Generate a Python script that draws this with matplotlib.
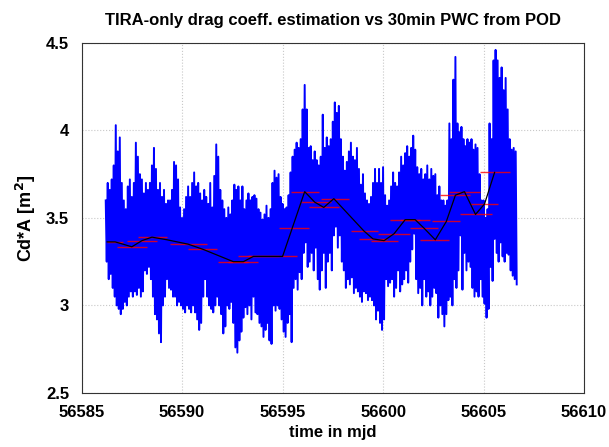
import numpy as np
import matplotlib
matplotlib.use('Agg')
import matplotlib.pyplot as plt

plt.rcParams['font.family'] = ['Liberation Sans', 'DejaVu Sans']
plt.rcParams['font.weight'] = 'bold'

# 30min PWC from POD (one high/low pair per 0.1 day)
t_start = 56586.2
t_step = 0.05
cd_pod = [
    3.60, 3.25, 3.70, 3.15, 3.66, 3.18, 3.72, 3.10, 3.80, 3.05, 4.03, 3.00, 3.88, 2.98, 3.96, 2.95,
    3.70, 2.98, 3.60, 3.02, 3.55, 3.00, 3.68, 3.05, 3.72, 3.08, 3.62, 3.05, 3.70, 3.08, 3.93, 3.06, 3.85, 3.10, 3.75, 3.05,
    3.72, 3.08, 3.64, 3.20, 3.70, 3.18, 3.66, 3.22, 3.70, 3.15, 3.80, 3.05, 3.90, 2.95, 3.78, 2.92, 3.66, 2.84, 3.70, 2.79,
    3.62, 3.00, 3.66, 3.05, 3.58, 3.15, 3.60, 3.10, 3.60, 3.09, 3.66, 3.05, 3.82, 3.05, 3.80, 3.00, 3.72, 3.02, 3.56, 3.00,
    3.50, 2.98, 3.55, 2.96, 3.62, 3.00, 3.68, 2.98, 3.62, 2.96, 3.70, 3.00, 3.76, 2.96, 3.68, 2.92, 3.70, 2.86, 3.64, 2.90,
    3.60, 3.05, 3.66, 3.15, 3.62, 3.05, 3.58, 3.00, 3.70, 2.98, 3.56, 2.96, 3.74, 3.00, 3.92, 3.05, 3.85, 3.00, 3.66, 2.95,
    3.60, 2.84, 3.55, 2.88, 3.50, 3.00, 3.56, 2.98, 3.52, 3.02, 3.60, 2.90, 3.69, 2.76, 3.66, 2.73, 3.68, 2.80, 3.60, 2.85,
    3.68, 2.93, 3.55, 2.99, 3.60, 2.95, 3.64, 3.00, 3.60, 2.92, 3.62, 3.05, 3.63, 2.96, 3.61, 2.95, 3.55, 2.90, 3.53, 2.88,
    3.49, 2.82, 3.52, 2.86, 3.57, 2.90, 3.50, 2.80, 3.55, 2.78, 3.70, 3.00, 3.77, 2.97, 3.73, 3.00, 3.75, 2.98, 3.62, 2.92,
    3.58, 2.85, 3.55, 2.82, 3.56, 2.90, 3.63, 2.95, 3.76, 2.79, 3.85, 3.10, 3.89, 3.15, 3.93, 3.09, 3.90, 3.19, 3.95, 3.15,
    4.12, 3.30, 4.26, 3.36, 4.12, 3.22, 3.90, 3.25, 3.91, 3.30, 3.83, 3.20, 3.88, 3.33, 3.83, 3.15, 3.80, 3.09, 3.85, 3.20,
    4.09, 3.30, 3.90, 3.10, 3.96, 3.25, 3.91, 3.30, 3.95, 3.20, 4.05, 3.40, 4.16, 3.45, 4.10, 3.33, 4.14, 3.40, 3.95, 3.25,
    3.85, 3.20, 3.77, 3.10, 3.82, 3.15, 3.88, 3.12, 3.93, 3.16, 3.85, 3.07, 3.83, 3.10, 3.90, 3.08, 3.78, 3.05, 3.69, 3.02,
    3.75, 3.08, 3.64, 3.07, 3.60, 3.03, 3.58, 3.05, 3.62, 3.03, 3.70, 3.00, 3.78, 2.92, 3.70, 2.97, 3.78, 2.90, 3.70, 2.86,
    3.79, 2.92, 3.63, 3.15, 3.57, 3.11, 3.60, 3.13, 3.68, 3.15, 3.76, 3.05, 3.70, 3.10, 3.68, 3.20, 3.76, 3.08, 3.85, 3.12,
    3.80, 3.15, 3.87, 3.20, 3.91, 3.13, 3.85, 3.25, 3.90, 3.32, 3.97, 3.41, 3.89, 3.15, 3.79, 3.07, 3.75, 3.10, 3.78, 3.00,
    3.72, 3.15, 3.75, 3.05, 3.80, 3.08, 3.72, 3.00, 3.78, 3.05, 3.74, 3.10, 3.75, 3.07, 3.63, 2.93, 3.68, 3.00, 3.60, 2.95,
    3.60, 2.88, 3.57, 2.95, 3.60, 3.03, 4.04, 3.05, 3.95, 3.00, 4.29, 3.15, 4.42, 3.10, 4.04, 3.20, 3.99, 3.40, 4.02, 3.09,
    3.95, 3.30, 3.91, 3.20, 3.95, 3.25, 3.93, 3.22, 3.95, 3.10, 3.89, 3.05, 3.92, 3.08, 3.90, 3.05, 3.75, 3.15, 3.60, 3.05,
    3.60, 3.01, 3.50, 2.93, 3.55, 2.98, 4.04, 3.22, 3.95, 3.14, 4.40, 3.38, 4.46, 3.30, 4.40, 3.25, 4.30, 3.36, 4.36, 3.28,
    4.23, 3.25, 4.30, 3.30, 4.12, 3.29, 3.95, 3.20, 3.89, 3.17, 3.90, 3.15, 3.88, 3.12,
]

# TIRA-only estimates: piecewise constant arcs (start, end, value)
seg_start = [56586.27, 56586.77, 56587.26, 56587.80, 56589.40, 56590.30, 56591.80, 56592.30,
             56592.80, 56593.30, 56594.30, 56594.80, 56595.40, 56595.90, 56596.30, 56596.90,
             56598.40, 56598.80, 56599.40, 56599.75, 56600.35, 56600.85, 56601.35, 56601.85,
             56602.45, 56602.85, 56603.30, 56603.85, 56604.35, 56604.80]
seg_end = [56587.07, 56588.26, 56588.76, 56589.26, 56591.24, 56591.75, 56593.30, 56593.80,
           56594.30, 56594.80, 56595.70, 56596.30, 56596.80, 56597.40, 56597.80, 56598.30,
           56599.75, 56600.20, 56600.75, 56601.35, 56601.85, 56602.35, 56602.75, 56603.30,
           56603.85, 56604.35, 56604.80, 56605.40, 56605.70, 56606.30]
seg_val = [3.363, 3.334, 3.37, 3.39, 3.35, 3.32, 3.25, 3.25,
           3.28, 3.28, 3.28, 3.44, 3.65, 3.59, 3.56, 3.61,
           3.425, 3.38, 3.37, 3.41, 3.49, 3.49, 3.44, 3.375,
           3.48, 3.63, 3.65, 3.52, 3.58, 3.76]

# black line through the arc centres
mid_t = [56586.27, 56586.67, 56587.50, 56588.00, 56588.50, 56589.25, 56590.30, 56591.05,
         56592.55, 56593.05, 56593.55, 56595.00, 56596.10, 56596.60, 56597.05, 56597.55,
         56599.05, 56599.50, 56600.05, 56600.55, 56601.10, 56601.60, 56602.05, 56602.60,
         56603.15, 56603.60, 56604.05, 56604.60, 56605.05, 56605.55]
mid_val = [3.363, 3.363, 3.335, 3.37, 3.39, 3.375, 3.35, 3.32,
           3.25, 3.25, 3.28, 3.28, 3.65, 3.59, 3.56, 3.61,
           3.425, 3.38, 3.37, 3.41, 3.49, 3.49, 3.44, 3.375,
           3.48, 3.63, 3.65, 3.52, 3.58, 3.76]

t_pod = t_start + t_step * np.arange(len(cd_pod))

fig = plt.figure(figsize=(6.09, 4.47), dpi=100)
ax = fig.add_axes([0.134, 0.121, 0.825, 0.783])

ax.plot(t_pod, cd_pod, color='#0000ff', lw=1.4)
ax.hlines(seg_val, seg_start, seg_end, colors='#ff0000', lw=1.0, alpha=0.8)
ax.plot(mid_t, mid_val, color='black', lw=0.9)

ax.set_xlim(56585, 56610)
ax.set_ylim(2.5, 4.5)
ax.set_xticks([56585, 56590, 56595, 56600, 56605, 56610])
ax.set_xticklabels(['56585', '56590', '56595', '56600', '56605', '56610'])
ax.set_yticks([2.5, 3, 3.5, 4, 4.5])
ax.set_yticklabels(['2.5', '3', '3.5', '4', '4.5'])
ax.tick_params(direction='in', length=0, labelsize=12)
ax.tick_params(axis='x', pad=9)
ax.tick_params(axis='y', pad=9)
ax.grid(True, color='#c8c8c8', linestyle=':', lw=0.8)
for sp in ax.spines.values():
    sp.set_color('#333333')
    sp.set_linewidth(0.8)

ax.set_title('TIRA-only drag coeff. estimation vs 30min PWC from POD', fontsize=12, fontweight='bold', pad=13)
ax.set_xlabel('time in mjd', fontsize=12, fontweight='bold', labelpad=3)
ax.set_ylabel('Cd*A [m$^\\mathbf{2}$]', fontsize=13, fontweight='bold', labelpad=6)

fig.savefig('out.png', dpi=100)
